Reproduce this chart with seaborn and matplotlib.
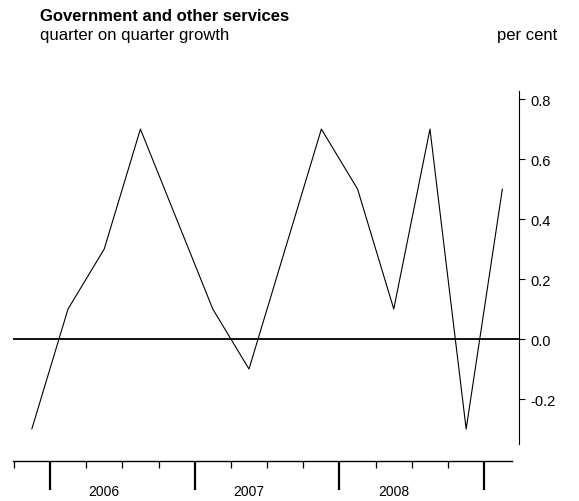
import numpy as np
import pandas as pd
import matplotlib
matplotlib.use("Agg")
import matplotlib.pyplot as plt
import seaborn as sns

# ==============================
# DATA
# ==============================
quarters = ['2005Q4', '2006Q1', '2006Q2', '2006Q3', '2006Q4',
            '2007Q1', '2007Q2', '2007Q3', '2007Q4',
            '2008Q1', '2008Q2', '2008Q3', '2008Q4', '2009Q1']
growth = [-0.3, 0.1, 0.3, 0.7, 0.4, 0.1, -0.1, 0.3, 0.7, 0.5, 0.1, 0.7, -0.3, 0.5]
years = ['2006', '2007', '2008']
y_ticks = [-0.2, 0.0, 0.2, 0.4, 0.6, 0.8]

df = pd.DataFrame({'quarter': quarters, 'growth': growth})
df['idx'] = np.arange(len(df))

# ==============================
# PLOT
# ==============================
sns.set_style('white')
plt.rcParams['font.family'] = ['Liberation Sans', 'DejaVu Sans']
plt.rcParams['text.color'] = 'black'

W, H = 579, 502
fig = plt.figure(figsize=(W / 100, H / 100), dpi=100)
ax = fig.add_axes([13 / W, (H - 445) / H, (519 - 13) / W, (445 - 92) / H])

sns.lineplot(data=df, x='idx', y='growth', color='black', linewidth=0.8, ax=ax)
ax.axhline(0, color='black', linewidth=1.3)

ax.set_xlim(-0.52, 13.46)
ax.set_ylim(-0.35, 0.827)
ax.set_xlabel('')
ax.set_ylabel('')

# right y axis
ax.yaxis.tick_right()
ax.set_yticks(y_ticks)
ax.set_yticklabels([f"{v:.1f}" for v in y_ticks])
ax.tick_params(axis='y', direction='out', length=4, width=0.8, pad=4,
               labelsize=10.5, colors='black', right=True, left=False)

# bottom axis with quarter and year ticks
for s in ['top', 'left']:
    ax.spines[s].set_visible(False)
ax.spines['right'].set_color('black')
ax.spines['right'].set_linewidth(0.8)
ax.spines['bottom'].set_color('black')
ax.spines['bottom'].set_linewidth(1.0)
ax.spines['bottom'].set_position(('outward', 17 * 72 / 100))
ax.spines['bottom'].set_bounds(-0.52, 13.27)

major = [0.5, 4.5, 8.5, 12.5]
minor = [b for b in np.arange(-0.5, 13, 1.0) if b not in major]
ax.set_xticks(major)
ax.set_xticks(minor, minor=True)
ax.set_xticklabels([])
ax.tick_params(axis='x', which='major', direction='out', length=21, width=1.6,
               colors='black', bottom=True)
ax.tick_params(axis='x', which='minor', direction='out', length=5, width=0.9,
               colors='black', bottom=True)

# year labels sit a little left of the year centre, as in the original
for i, yr in enumerate(years):
    ax.text(2.0 + 4 * i, -0.133, yr, transform=ax.get_xaxis_transform(),
            ha='center', va='center', fontsize=10, color='black')

# titles
fig.text(40 / W, 1 - 9 / H, 'Government and other services', fontsize=12,
         fontweight='bold', ha='left', va='top', color='black')
fig.text(40 / W, 1 - 28 / H, 'quarter on quarter growth', fontsize=12,
         ha='left', va='top', color='black')
fig.text(557 / W, 1 - 28 / H, 'per cent', fontsize=12, ha='right', va='top',
         color='black')

fig.savefig('out.png', dpi=100)
